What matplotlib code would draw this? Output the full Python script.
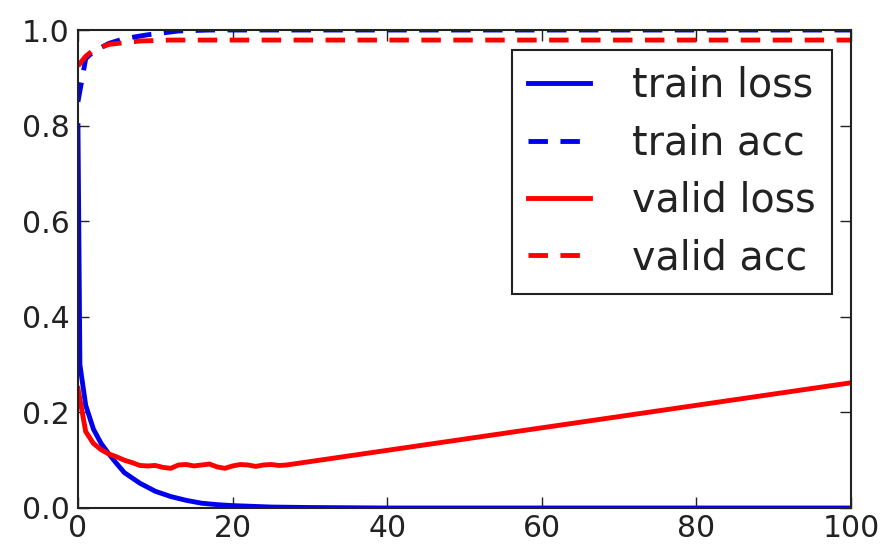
import matplotlib
matplotlib.use('Agg')
import matplotlib.pyplot as plt

# values
train_loss_x = [0, 0.25, 1, 2, 3, 4, 5, 6, 8, 10, 12, 14, 16, 18, 20, 25, 30, 40, 100]
train_loss_y = [0.80, 0.30, 0.215, 0.165, 0.135, 0.113, 0.093, 0.074, 0.052, 0.035,
                0.024, 0.016, 0.010, 0.007, 0.005, 0.002, 0.001, 0.0, 0.0]

train_acc_x = [0, 1, 2, 4, 6, 9, 13, 17, 100]
train_acc_y = [0.85, 0.94, 0.955, 0.972, 0.982, 0.99, 0.998, 1.0, 1.0]

valid_loss_x = list(range(28)) + [100]
valid_loss_y = [0.25, 0.16, 0.135, 0.122, 0.113, 0.107, 0.100, 0.095, 0.089, 0.088,
                0.089, 0.085, 0.083, 0.090, 0.091, 0.088, 0.090, 0.092, 0.086, 0.083,
                0.088, 0.091, 0.090, 0.087, 0.090, 0.091, 0.089, 0.090, 0.262]

valid_acc_x = [0, 1, 2, 4, 8, 12, 100]
valid_acc_y = [0.925, 0.945, 0.958, 0.970, 0.977, 0.979, 0.979]

plt.rcParams['lines.scale_dashes'] = False

fig = plt.figure(figsize=(8.83, 5.46), dpi=100)
ax = fig.add_axes([0.0883, 0.0696, 0.8755, 0.8754])

dash = (0, (14, 9))
ax.plot(train_loss_x, train_loss_y, color='#0000ee', lw=3.5, label='train loss')
ax.plot(train_acc_x, train_acc_y, color='#0000ee', lw=3.5, linestyle=dash, label='train acc')
ax.plot(valid_loss_x, valid_loss_y, color='#ff0000', lw=3.5, label='valid loss')
ax.plot(valid_acc_x, valid_acc_y, color='#ff0000', lw=3.5, linestyle=dash, label='valid acc')

ax.set_xlim(0, 100)
ax.set_ylim(0, 1.0)
ax.set_xticks([0, 20, 40, 60, 80, 100])
ax.set_yticks([0.0, 0.2, 0.4, 0.6, 0.8, 1.0])
ax.tick_params(direction='in', length=8, width=1, labelsize=21.5,
               top=True, right=True, pad=6, colors='#222222')
ax.tick_params(axis='x', pad=4)
for s in ax.spines.values():
    s.set_linewidth(1.5)
    s.set_color('#222222')

leg = ax.legend(loc='upper right', bbox_to_anchor=(0.975, 0.958), borderaxespad=0,
                fontsize=28.5, handlelength=1.57, handletextpad=1.06, labelspacing=0.44,
                borderpad=0.4, fancybox=False, framealpha=1)
leg.get_frame().set_edgecolor('#222222')
leg.get_frame().set_linewidth(1.5)
for t in leg.get_texts():
    t.set_color('#222222')

plt.savefig('out.png', dpi=100)
